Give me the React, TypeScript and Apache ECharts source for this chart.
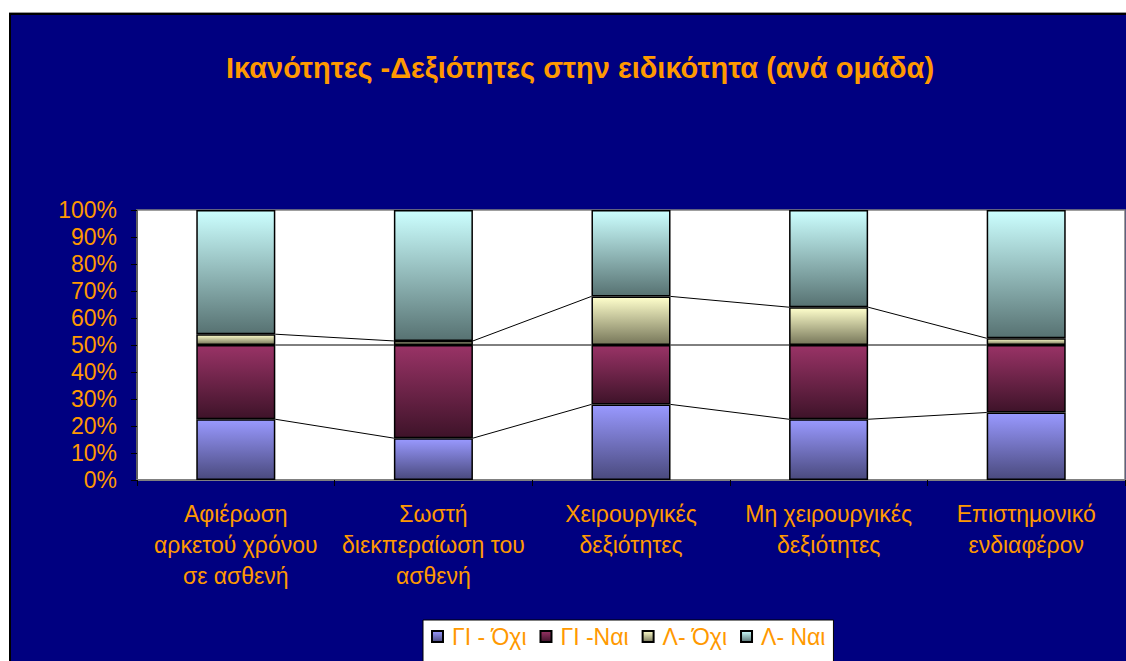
import React, { useEffect, useRef } from "react";
import * as echarts from "echarts";

const categories = [
  "Αφιέρωση\nαρκετού χρόνου\nσε ασθενή",
  "Σωστή\nδιεκπεραίωση του\nασθενή",
  "Χειρουργικές\nδεξιότητες",
  "Μη χειρουργικές\nδεξιότητες",
  "Επιστημονικό\nενδιαφέρον",
];
const seriesNames = ["ΓΙ - Όχι", "ΓΙ -Ναι", "Λ- Όχι", "Λ- Ναι"];
const giNo = [22.5, 15.5, 28, 22.5, 25];
const giYes = [27.5, 34.5, 22, 27.5, 25];
const lNo = [4, 1.5, 18, 14, 2.5];
const lYes = [46, 48.5, 32, 36, 47.5];
const yTicks = [0, 10, 20, 30, 40, 50, 60, 70, 80, 90, 100];

const gradients = [
  ["#9999FF", "#4A4A7E"],
  ["#993366", "#3E1329"],
  ["#FFFFCC", "#77775A"],
  ["#CCFFFF", "#577272"],
];

export default function App() {
  const ref = useRef<HTMLDivElement>(null);
  useEffect(() => {
    if (!ref.current) return;
    const chart = echarts.init(ref.current, undefined, { renderer: "svg" });
    const values = [giNo, giYes, lNo, lYes];
    const cum: number[][] = [];
    let running = categories.map(() => 0);
    values.forEach((arr) => {
      running = running.map((r, i) => r + arr[i]);
      cum.push(running.slice());
    });
    const lineData: number[][] = [];
    cum.slice(0, 3).forEach((tops) => {
      for (let i = 0; i < tops.length - 1; i++) lineData.push([i, tops[i], tops[i + 1]]);
    });
    const font = "'Liberation Sans', Arial, sans-serif";
    const orange = "#FF9900";
    const barSeries = values.map((arr, k) => ({
      name: seriesNames[k],
      type: "bar",
      stack: "total",
      barWidth: "40%",
      data: arr,
      itemStyle: {
        color: new echarts.graphic.LinearGradient(0, 0, 0, 1, [
          { offset: 0, color: gradients[k][0] },
          { offset: 1, color: gradients[k][1] },
        ]),
        borderColor: "#000",
        borderWidth: 1.5,
      },
      emphasis: { disabled: true },
      z: 3,
    }));
    chart.setOption({
      animation: false,
      backgroundColor: "#ffffff",
      graphic: [
        {
          type: "rect",
          shape: { x: 10, y: 14, width: 1130, height: 660 },
          style: { fill: "#000080", stroke: "#000", lineWidth: 2 },
          z: -10,
        },
        {
          type: "line",
          shape: { x1: 9, y1: 12.5, x2: 1126, y2: 12.5 },
          style: { stroke: "#999", lineWidth: 1 },
          z: -10,
        },
      ],
      title: {
        text: "Ικανότητες -Δεξιότητες στην ειδικότητα (ανά ομάδα)",
        left: 575,
        top: 48,
        textAlign: "center",
        textStyle: { color: orange, fontFamily: font, fontWeight: "bold", fontSize: 29 },
      },
      legend: {
        data: seriesNames,
        left: 423,
        top: 620,
        orient: "horizontal",
        backgroundColor: "#ffffff",
        borderColor: "#000",
        borderWidth: 1,
        padding: [5, 8, 30, 8],
        itemWidth: 11,
        itemHeight: 11,
        itemGap: 13,
        icon: "rect",
        textStyle: { color: orange, fontFamily: font, fontSize: 23, padding: [0, 0, 0, 4] },
      },
      grid: {
        left: 137,
        right: 1,
        top: 210,
        bottom: 181,
        show: true,
        backgroundColor: "#ffffff",
        borderColor: "#808080",
        borderWidth: 1.5,
        containLabel: false,
      },
      xAxis: {
        type: "category",
        data: categories,
        axisLine: { show: true, lineStyle: { color: "#808080", width: 2 } },
        axisTick: { show: true, length: 6, lineStyle: { color: "#000" } },
        axisLabel: {
          color: orange,
          fontFamily: font,
          fontSize: 23,
          lineHeight: 31,
          margin: 18,
          interval: 0,
        },
      },
      yAxis: {
        type: "value",
        min: yTicks[0],
        max: yTicks[yTicks.length - 1],
        interval: 10,
        splitLine: { show: false },
        axisLine: { show: true, lineStyle: { color: "#606060", width: 2 } },
        axisTick: { show: true, length: 6, lineStyle: { color: "#000" } },
        axisLabel: {
          color: orange,
          fontFamily: font,
          fontSize: 23,
          margin: 20,
          formatter: "{value}%",
        },
      },
      series: [
        ...barSeries,
        {
          type: "custom",
          name: "seriesLines",
          data: lineData,
          encode: { x: 0, y: 1 },
          z: 2,
          silent: true,
          renderItem: (params: any, api: any) => {
            const i = api.value(0);
            const a = api.coord([i, api.value(1)]);
            const b = api.coord([i + 1, api.value(2)]);
            const half = api.size([1, 0])[0] * 0.2;
            return {
              type: "line",
              shape: { x1: a[0] + half, y1: a[1], x2: b[0] - half, y2: b[1] },
              style: { stroke: "#000", lineWidth: 1 },
            };
          },
        },
      ],
    });
    return () => chart.dispose();
  }, []);
  return (
    <div
      ref={ref}
      style={{ position: "fixed", left: 0, top: 0, width: 1126, height: 661 }}
    />
  );
}
